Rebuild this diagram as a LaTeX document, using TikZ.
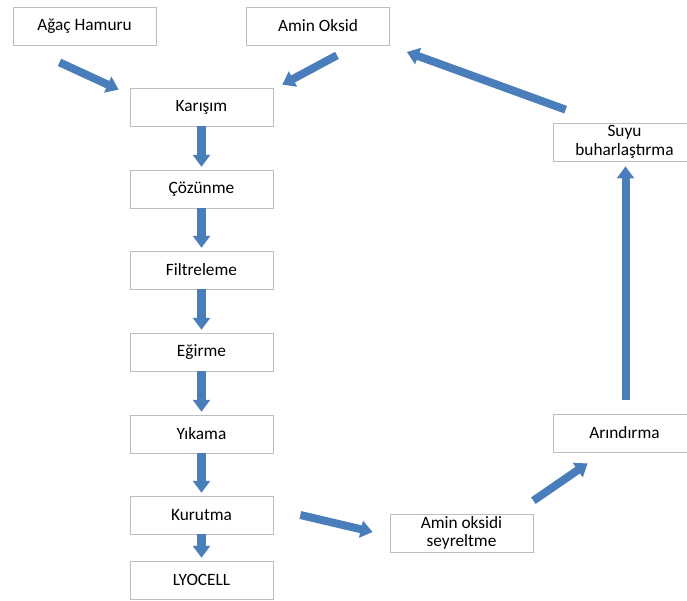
\documentclass[tikz,border=0pt]{standalone}
\usepackage{fontspec}
\setmainfont{Carlito}
\usepackage{tikz}
\usetikzlibrary{calc, arrows.meta}

\definecolor{arrblue}{RGB}{74,126,187}
\definecolor{boxgray}{RGB}{190,190,190}

\begin{document}
\begin{tikzpicture}[
    x=0.025cm, y=-0.025cm,
    stepbox/.style={rectangle, draw=boxgray, fill=white, line width=0.5pt, minimum width=3.575cm, minimum height=0.95cm, inner sep=1pt, align=center, font=\fontsize{12.3}{13.2}\selectfont},
    blockarr/.style={-{Triangle[length=0.3cm, width=0.42cm]}, arrblue, line width=0.2cm},
]
\useasboundingbox (0,0) rectangle (687,601);

% Inputs
\node[stepbox] (agac) at (84.5, 26) {Ağaç Hamuru};
\node[stepbox] (amin) at (318, 26) {Amin Oksid};

% Main process
\node[stepbox] (karisim) at (201.5, 107) {Karışım};
\node[stepbox] (cozunme) at (201.5, 189) {Çözünme};
\node[stepbox] (filtre) at (201.5, 270) {Filtreleme};
\node[stepbox] (egirme) at (201.5, 352) {Eğirme};
\node[stepbox] (yikama) at (201.5, 434) {Yıkama};
\node[stepbox] (kurutma) at (201.5, 515) {Kurutma};
\node[stepbox] (lyocell) at (201.5, 580) {LYOCELL};

% Recovery loop
\node[stepbox] (seyrelt) at (461.5, 533) {Amin oksidi\\seyreltme};
\node[stepbox] (arindir) at (624.5, 433) {Arındırma};
\node[stepbox] (buhar) at (624.5, 142) {Suyu\\buharlaştırma};

% Arrows
\draw[blockarr] ($(agac.south)+(-25,17)$) -- ($(karisim.north west)+(-11,2)$);
\draw[blockarr] ($(amin.south)+(19,10)$) -- ($(karisim.north east)+(9,-3)$);
\draw[blockarr, shorten >=2pt] (karisim) -- (cozunme);
\draw[blockarr, shorten >=2pt] (cozunme) -- (filtre);
\draw[blockarr, shorten >=2pt] (filtre) -- (egirme);
\draw[blockarr, shorten >=2pt] (egirme) -- (yikama);
\draw[blockarr, shorten >=2pt] (yikama) -- (kurutma);
\draw[blockarr, shorten >=2pt] (kurutma) -- (lyocell);
\draw[blockarr] ($(kurutma.east)+(27,0)$) -- ($(seyrelt.west)+(-17,-1)$);
\draw[blockarr] ($(seyrelt.north east)+(0,-13)$) -- ($(arindir.south west)+(35,11)$);
\draw[blockarr] ($(arindir.north)+(1,-14)$) -- ($(buhar.south)+(1,5)$);
\draw[blockarr] ($(buhar.north west)+(13,-13)$) -- ($(amin.east)+(17,26)$);

\end{tikzpicture}
\end{document}
